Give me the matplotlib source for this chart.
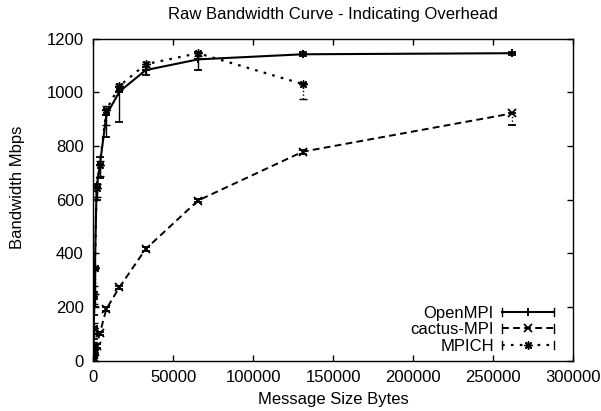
import numpy as np
import matplotlib; matplotlib.use("Agg")
import matplotlib.pyplot as plt
from matplotlib.lines import Line2D
from matplotlib.legend_handler import HandlerBase

plt.rcParams["font.family"] = ["Liberation Sans", "DejaVu Sans"]
plt.rcParams["font.size"] = 12

# message sizes (bytes)
sizes = [64, 128, 256, 512, 1024, 2048, 4096, 8192, 16384, 32768, 65536, 131072, 262144]

# OpenMPI: value, lower end, upper end of error bar
ompi = [25, 50, 100, 200, 337, 643, 729, 916, 1003, 1083, 1123, 1142, 1146]
ompi_lo = [20, 40, 80, 170, 200, 600, 680, 835, 890, 1065, 1083, 1135, 1140]
ompi_hi = [30, 60, 120, 230, 345, 660, 760, 935, 1020, 1095, 1150, 1150, 1152]

# cactus-MPI
cactus = [3, 6, 11, 20, 34, 56, 102, 193, 274, 416, 597, 779, 922]
cactus_lo = [2, 5, 9, 15, 28, 48, 95, 185, 268, 410, 592, 772, 878]
cactus_hi = [4, 7, 13, 25, 40, 62, 108, 200, 280, 422, 602, 785, 925]

# MPICH (no 262144 point)
mpich_sizes = sizes[:-1]
mpich = [30, 60, 120, 250, 345, 645, 731, 935, 1024, 1105, 1146, 1031]
mpich_lo = [25, 50, 100, 210, 250, 610, 690, 880, 1010, 1095, 1135, 975]
mpich_hi = [35, 70, 140, 280, 350, 660, 745, 950, 1030, 1112, 1152, 1035]

INK = "black"


class ErrKey(HandlerBase):
    # gnuplot-style key sample: line, end caps, marker in the middle
    def create_artists(self, legend, orig, xd, yd, w, h, fontsize, trans):
        y = h / 2 - yd
        x0, x1 = -xd, -xd + w
        ln = Line2D([x0, x1], [y, y])
        ln.update_from(orig)
        ln.set_marker("")
        caps = [Line2D([x, x], [y - 3, y + 3], color=INK, lw=1.0) for x in (x0, x1)]
        mk = Line2D([(x0 + x1) / 2], [y], marker=orig.get_marker(), ms=orig.get_markersize(),
                    mew=orig.get_markeredgewidth(), color=INK, ls="none")
        arts = [ln] + caps + [mk]
        for a in arts:
            a.set_transform(trans)
        return arts


def err(v, lo, hi):
    v, lo, hi = np.array(v), np.array(lo), np.array(hi)
    return [v - lo, hi - v]


fig = plt.figure(figsize=(6.01, 4.11), dpi=100)
fig.patch.set_facecolor("white")
ax = fig.add_axes([0.1552, 0.1224, 0.7982, 0.7834])

styles = [
    ("OpenMPI", sizes, ompi, ompi_lo, ompi_hi, "-", (4, 2, 0), 1.5, 1.3),
    ("cactus-MPI", sizes, cactus, cactus_lo, cactus_hi, (0, (3.5, 2.2)), "x", 1.4, 1.3),
    ("MPICH", mpich_sizes, mpich, mpich_lo, mpich_hi, (0, (1.2, 2.8)), (8, 2, 0), 1.6, 1.0),
]
handles = []
for name, xs, ys, lo, hi, ls, mk, lw, mw in styles:
    cont = ax.errorbar(xs, ys, yerr=err(ys, lo, hi), color=INK, ls=ls, lw=lw,
                       marker=mk, ms=6, mew=mw, capsize=3, capthick=1.0, elinewidth=1.0)
    for bl in cont[2]:
        bl.set_linestyle("-" if ls == "-" else ":")
    handles.append(Line2D([], [], color=INK, ls=ls, lw=lw, marker=mk, ms=6, mew=mw, label=name))

ax.set_xlim(0, 300000)
ax.set_ylim(0, 1200)
ax.set_xticks(np.arange(0, 300001, 50000))
ax.set_yticks(np.arange(0, 1201, 200))
ax.tick_params(direction="in", length=4.5, width=1.0, top=True, right=True, colors=INK, labelsize=12)
ax.tick_params(axis="x", pad=7)
ax.tick_params(axis="y", pad=7)
for s in ax.spines.values():
    s.set_linewidth(1.0)

ax.set_title("Raw Bandwidth Curve - Indicating Overhead", fontsize=12, y=1.074, va="center", pad=0)
ax.set_xlabel("Message Size Bytes", fontsize=12, va="center")
ax.xaxis.set_label_coords(0.5, -0.122)
ax.set_ylabel("Bandwidth Mbps", fontsize=12, va="center")
ax.yaxis.set_label_coords(-0.157, 0.539)

ax.legend(handles=handles, handler_map={Line2D: ErrKey()}, loc="lower right",
          bbox_to_anchor=(0.960, 0.022), frameon=False, markerfirst=False,
          handlelength=3.1, handletextpad=0.5, labelspacing=0.08, borderpad=0,
          borderaxespad=0, fontsize=12)

fig.savefig("out.png", dpi=100, facecolor="white")
